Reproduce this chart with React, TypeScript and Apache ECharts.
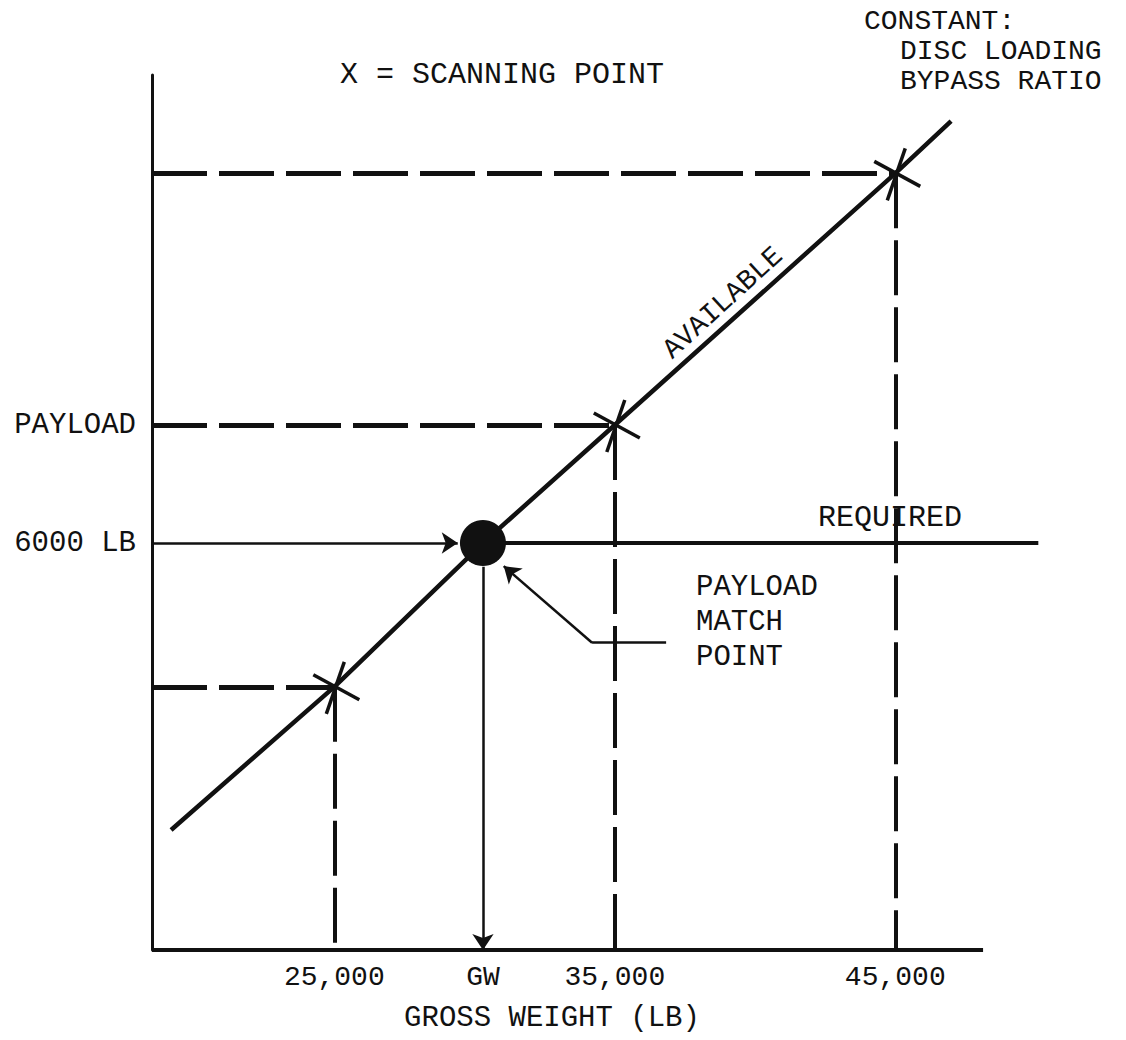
import React, { useEffect, useRef } from "react";
import * as echarts from "echarts";

// ---- data (gross weight in lb, payload in lb) ----
const X_MIN = 18500;
const X_AXIS_END = 48130; // where the drawn gross-weight axis stops
const X_MAX = 50160; // plot area runs a little further so the REQUIRED line can overrun the axis
const Y_MIN = 0;
const Y_MAX = 12900;

const xTickValues = [25000, 30300, 35000, 45000];
const xTickLabels = ["25,000", "GW", "35,000", "45,000"];
const yTickValues = [7740, 6000];
const yTickLabels = ["PAYLOAD", "6000 LB"];

// "available" payload line
const availableGW = [19180, 25000, 30300, 35000, 45000, 46990];
const availablePayload = [1770, 3880, 6000, 7740, 11450, 12220];

// scanning points (X marks)
const scanGW = [25000, 35000, 45000];
const scanPayload = [3880, 7740, 11450];

// match point and required payload
const matchGW = 30300;
const requiredPayload = 6000;
const requiredEndGW = 50100;

// arrows
const payloadArrow = [[X_MIN, 6000], [29400, 6000]];
const gwArrow = [[30300, 5650], [30300, 0]];
const pointerFlat = [[36830, 4530], [34190, 4530]];
const pointerDiag = [[34190, 4530], [31040, 5660]];

const INK = "#111111";
const FONT = "Liberation Mono";

export default function App() {
  const ref = useRef<HTMLDivElement>(null);
  useEffect(() => {
    if (!ref.current) return;
    const chart = echarts.init(ref.current, null, { renderer: "svg" });
    const dash = [55, 12];
    const hDash = scanGW.map((g, i) => ({ coords: [[X_MIN, scanPayload[i]], [g, scanPayload[i]]] }));
    const vDash = scanGW.map((g, i) => ({ coords: [[g, scanPayload[i]], [g, Y_MIN]] }));
    chart.setOption({
      animation: false,
      backgroundColor: "#ffffff",
      textStyle: { fontFamily: FONT, color: INK },
      grid: { left: 152, right: 86, top: 75, bottom: 90, containLabel: false },
      xAxis: {
        type: "value",
        min: X_MIN,
        max: X_MAX,
        axisLine: { show: false },
        axisTick: { show: false },
        splitLine: { show: false },
        axisLabel: {
          customValues: xTickValues,
          margin: 13,
          fontFamily: FONT,
          fontSize: 28,
          color: INK,
          formatter: (v: number) => xTickLabels[xTickValues.indexOf(v)] ?? "",
        },
        name: "GROSS WEIGHT (LB)",
        nameLocation: "middle",
        nameGap: 54,
        nameTextStyle: { fontFamily: FONT, fontSize: 29, color: INK, padding: [0, 88, 0, 0] },
      },
      yAxis: {
        type: "value",
        min: Y_MIN,
        max: Y_MAX,
        axisLine: { show: true, onZero: false, lineStyle: { color: INK, width: 3 } },
        axisTick: { show: false },
        splitLine: { show: false },
        axisLabel: {
          customValues: yTickValues,
          margin: 16,
          fontFamily: FONT,
          fontSize: 29,
          color: INK,
          formatter: (v: number) => yTickLabels[yTickValues.indexOf(v)] ?? "",
        },
      },
      graphic: [
        { type: "text", left: 340, top: 60, style: { text: "X = SCANNING POINT", font: `30px ${FONT}`, fill: INK } },
        { type: "text", left: 864, top: 7, style: { text: "CONSTANT:", font: `28px ${FONT}`, fill: INK } },
        { type: "text", left: 900, top: 37, style: { text: "DISC LOADING", font: `28px ${FONT}`, fill: INK } },
        { type: "text", left: 900, top: 67, style: { text: "BYPASS RATIO", font: `28px ${FONT}`, fill: INK } },
        { type: "text", left: 818, top: 503, style: { text: "REQUIRED", font: `30px ${FONT}`, fill: INK } },
        { type: "text", left: 696, top: 573, style: { text: "PAYLOAD", font: `29px ${FONT}`, fill: INK } },
        { type: "text", left: 696, top: 608, style: { text: "MATCH", font: `29px ${FONT}`, fill: INK } },
        { type: "text", left: 696, top: 643, style: { text: "POINT", font: `29px ${FONT}`, fill: INK } },
        {
          type: "text",
          x: 723,
          y: 303,
          rotation: 0.74,
          style: { text: "AVAILABLE", font: `28px ${FONT}`, fill: INK, align: "center", verticalAlign: "middle" },
        },
      ],
      series: [
        {
          // gross-weight axis line
          type: "lines",
          coordinateSystem: "cartesian2d",
          symbol: "none",
          lineStyle: { color: INK, width: 4, opacity: 1 },
          data: [{ coords: [[X_MIN, Y_MIN], [X_AXIS_END, Y_MIN]] }],
          z: 2,
        },
        {
          type: "lines",
          coordinateSystem: "cartesian2d",
          symbol: "none",
          lineStyle: { color: INK, width: 5, type: dash, opacity: 1 },
          data: hDash,
          z: 2,
        },
        {
          type: "lines",
          coordinateSystem: "cartesian2d",
          symbol: "none",
          lineStyle: { color: INK, width: 4, type: dash, opacity: 1 },
          data: vDash,
          z: 2,
        },
        {
          type: "line",
          data: availableGW.map((g, i) => [g, availablePayload[i]]),
          showSymbol: false,
          symbol: "none",
          lineStyle: { color: INK, width: 4.5 },
          z: 3,
        },
        {
          type: "line",
          data: [[matchGW, requiredPayload], [requiredEndGW, requiredPayload]],
          showSymbol: false,
          symbol: "none",
          lineStyle: { color: INK, width: 4 },
          z: 3,
        },
        {
          type: "lines",
          coordinateSystem: "cartesian2d",
          symbol: ["none", "arrow"],
          symbolSize: 16,
          lineStyle: { color: INK, width: 2.5, opacity: 1 },
          data: [{ coords: payloadArrow }, { coords: gwArrow }, { coords: pointerDiag }],
          z: 4,
        },
        {
          type: "lines",
          coordinateSystem: "cartesian2d",
          symbol: "none",
          lineStyle: { color: INK, width: 2.5, opacity: 1 },
          data: [{ coords: pointerFlat }],
          z: 4,
        },
        {
          type: "custom",
          data: scanGW.map((g, i) => [g, scanPayload[i]]),
          renderItem: (_params: any, api: any) => {
            const p = api.coord([api.value(0), api.value(1)]);
            const style = { stroke: INK, lineWidth: 3.5 };
            return {
              type: "group",
              children: [
                { type: "line", shape: { x1: p[0] - 21, y1: p[1] - 12, x2: p[0] + 25, y2: p[1] + 13 }, style },
                { type: "line", shape: { x1: p[0] + 10, y1: p[1] - 25, x2: p[0] - 8, y2: p[1] + 27 }, style },
              ],
            };
          },
          z: 5,
        },
        {
          type: "scatter",
          data: [[matchGW, requiredPayload]],
          symbol: "circle",
          symbolSize: 46,
          itemStyle: { color: INK, opacity: 1 },
          z: 6,
        },
      ],
    });
    return () => chart.dispose();
  }, []);
  return <div ref={ref} style={{ position: "fixed", left: 0, top: 0, width: 1126, height: 1040 }} />;
}
